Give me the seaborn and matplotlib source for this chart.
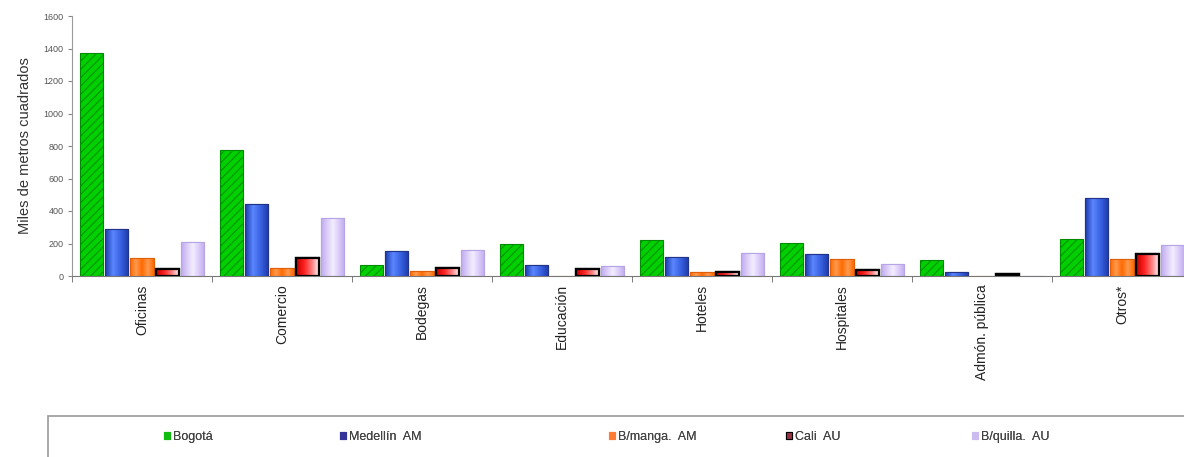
import numpy as np
import pandas as pd
import matplotlib
matplotlib.use("Agg")
import matplotlib.pyplot as plt
from matplotlib.colors import LinearSegmentedColormap
from matplotlib.patches import Rectangle, Patch
import seaborn as sns

# datos (miles de m2)
categorias = ["Oficinas", "Comercio", "Bodegas", "Educación", "Hoteles",
              "Hospitales", "Admón. pública", "Otros*"]
ciudades = ["Bogotá", "Medellín  AM", "B/manga.  AM", "Cali  AU", "B/quilla.  AU"]
bogota = [1370, 777, 68, 197, 221, 205, 98, 230]
medellin = [287, 443, 154, 68, 115, 135, 27, 478]
bmanga = [113, 47, 29, 0, 27, 103, 0, 107]
cali = [41, 113, 47, 45, 27, 37, 10, 137]
bquilla = [211, 359, 160, 63, 141, 76, 3, 189]
yticks = [0, 200, 400, 600, 800, 1000, 1200, 1400, 1600]

colores = ["#00d000", "#2f55d8", "#ff7a1a", "#e01818", "#cbb8f6"]
bordes = ["#008a00", "#22348a", "#e0600a", "#000000", "#b5a4e6"]
gradientes = [None,
              ["#1c3aa8", "#5a86ff", "#3860e0", "#1c3aa8"],
              ["#ff6a00", "#ff9a50", "#ff6a00", "#ff9a50", "#ff6a00"],
              ["#c00000", "#ff2020", "#ff8080", "#ffffff"],
              ["#c0aaf0", "#f4eeff", "#c0aaf0"]]
legend_cols = ["#11bb11", "#333399", "#ff7a33", "#993344", "#ccbbee"]
legend_x = [167, 343, 612, 789, 975]

sns.set_style("white")
plt.rcParams["font.family"] = ["Liberation Sans", "DejaVu Sans"]
plt.rcParams["hatch.linewidth"] = 0.7

df = pd.DataFrame({
    "categoria": categorias * 5,
    "ciudad": np.repeat(ciudades, len(categorias)),
    "valor": bogota + medellin + bmanga + cali + bquilla,
})

fig = plt.figure(figsize=(11.84, 4.57), dpi=100)
ax = fig.add_axes([72 / 1184, 1 - 276 / 457, 1120 / 1184, 260 / 457])

sns.barplot(data=df, x="categoria", y="valor", hue="ciudad", hue_order=ciudades,
            palette=colores, saturation=1, width=0.9, gap=0.08, legend=False, ax=ax)

for i, cont in enumerate(ax.containers):
    for bar in cont:
        bar.set_edgecolor(bordes[i])
        bar.set_linewidth(1.6 if i == 3 else 0.8)
        bar.set_zorder(2)
        if i == 0:
            bar.set_hatch("////")
        if gradientes[i] is not None and bar.get_height() > 0:
            x0, y0 = bar.get_x(), bar.get_y()
            w, h = bar.get_width(), bar.get_height()
            cmap = LinearSegmentedColormap.from_list("g%d" % i, gradientes[i])
            im = ax.imshow(np.linspace(0, 1, 64).reshape(1, -1), cmap=cmap,
                           extent=[x0, x0 + w, y0, y0 + h], aspect="auto",
                           zorder=2.1, interpolation="bilinear")
            im.set_clip_path(bar)
            edge = Rectangle((x0, y0), w, h, fill=False, edgecolor=bordes[i],
                             linewidth=1.6 if i == 3 else 0.8, zorder=2.2)
            ax.add_patch(edge)

ax.set_xlim(-0.5, len(categorias) - 0.5)
ax.set_ylim(0, 1600)
ax.set_yticks(yticks)
ax.set_yticklabels([str(v) for v in yticks], fontsize=6.5, color="#555555")
ax.set_xticks(range(len(categorias)))
ax.set_xticklabels(categorias, rotation=90, fontsize=10, color="#222222")
ax.tick_params(axis="x", length=0, pad=6)
ax.set_xticks(np.arange(-0.5, len(categorias)), minor=True)
ax.tick_params(axis="x", which="minor", length=4, direction="out", color="#666666",
               bottom=True)
ax.tick_params(axis="y", length=3, direction="out", color="#888888", left=True, pad=3)
ax.set_xlabel("")
ax.set_ylabel("Miles de metros cuadrados", fontsize=10.5, color="#333333", labelpad=8)

for s in ["top", "right"]:
    ax.spines[s].set_visible(False)
ax.spines["left"].set_color("#999999")
ax.spines["bottom"].set_color("#777777")

# caja de la leyenda
fig.add_artist(Rectangle((48 / 1184, -0.05), 1.1, (457 - 416) / 457 + 0.05,
                         transform=fig.transFigure, fill=False,
                         edgecolor="#999999", linewidth=1.2))
for i, nombre in enumerate(ciudades):
    h = Patch(facecolor=legend_cols[i], edgecolor="black" if i == 3 else legend_cols[i],
              linewidth=0.8)
    leg = fig.legend(handles=[h], labels=[nombre], loc="center left",
                     bbox_to_anchor=((legend_x[i] - 3) / 1184, 1 - 437 / 457),
                     frameon=False, handlelength=0.5, handleheight=0.5,
                     handletextpad=0.25, borderpad=0, borderaxespad=0,
                     fontsize=9, labelcolor="#444444")
    fig.add_artist(leg)

fig.savefig("out.png", dpi=100)
